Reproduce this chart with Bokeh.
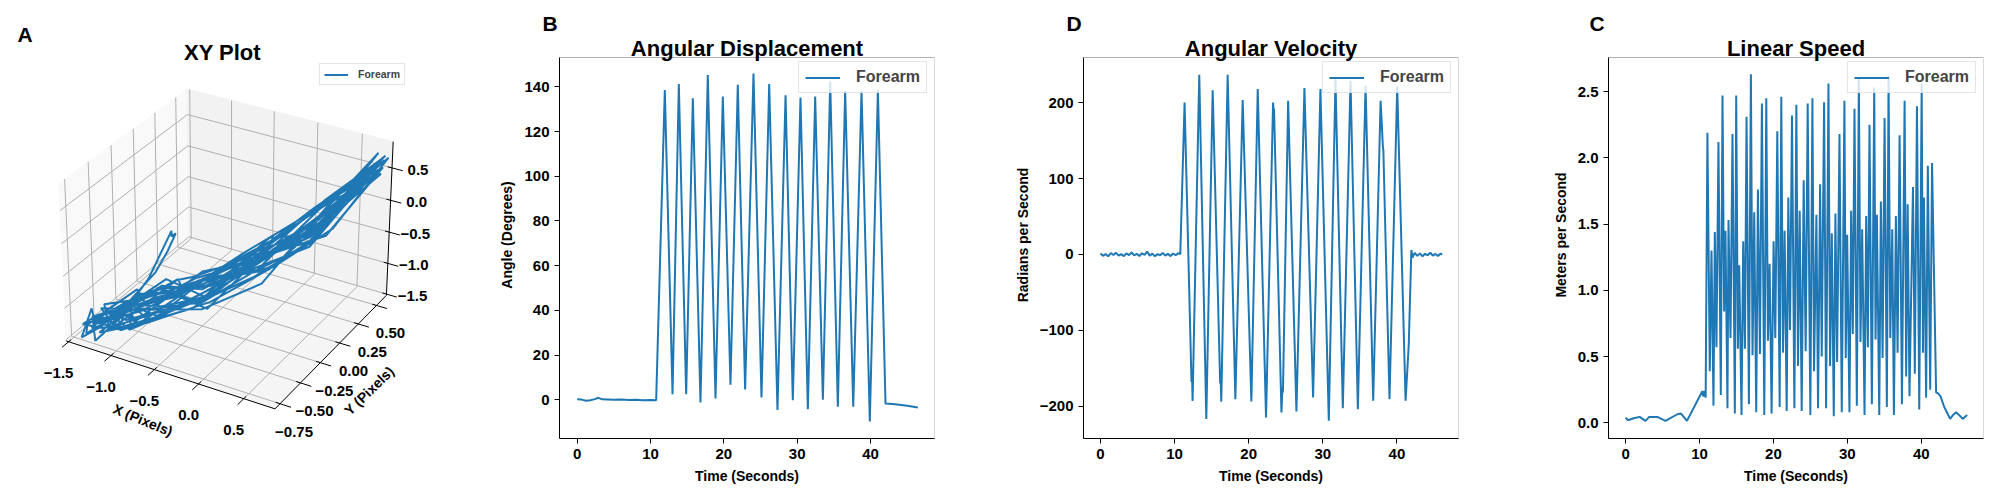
import numpy as np
from bokeh.plotting import figure
from bokeh.layouts import row
from bokeh.models import FixedTicker, BoxAnnotation
from bokeh.core.properties import value
from bokeh.embed import file_html
from bokeh.resources import INLINE

FONT = "Liberation Sans"
BLUE = "#1f77b4"

# ---------------------------------------------------------------- data

# angular displacement (degrees) over time (seconds)
disp_t = [0.0, 0.6, 1.2, 1.8, 2.4, 2.9, 3.4, 4.2, 5.0, 6.0, 7.0, 8.0, 9.0, 10.0, 10.77,
          11.95, 13.0, 13.86, 14.86, 15.77, 16.81, 17.81, 18.86, 19.86, 20.9,
          21.9, 22.9, 24.04, 25.13, 26.18, 27.31, 28.41, 29.4, 30.45, 31.45,
          32.45, 33.5, 34.5, 35.54, 36.54, 37.64, 38.77, 39.9, 41.0,
          42.04, 43.0, 43.95, 45.0, 46.45]
disp_v = [0.3, 0.1, -0.4, -0.2, 0.3, 0.9, 0.2, 0.1, 0.0, 0.1, -0.1, 0.0, -0.2, -0.1, -0.2,
          138.5, 2.5, 141.2, 2.5, 134.9, -1.2, 145.3, 0.6, 135.6, 6.7,
          140.9, 4.6, 145.9, 1.0, 141.2, -4.5, 136.2, -0.2, 135.2, -4.2,
          135.7, 0.0, 142.4, -3.1, 138.2, -3.1, 138.2, -9.7, 138.5,
          -1.7, -1.9, -2.2, -2.7, -3.4]

# angular velocity (radians per second)
vel_t = [0.0, 0.35, 0.7, 1.05, 1.4, 1.75, 2.1, 2.45, 2.8, 3.15,
         3.5, 3.85, 4.2, 4.55, 4.9, 5.25, 5.6, 5.95, 6.3, 6.65,
         7.0, 7.35, 7.7, 8.05, 8.4, 8.75, 9.1, 9.45, 9.8, 10.15,
         10.5, 10.77,
         11.35, 12.28, 12.36, 12.43, 13.33, 14.28, 15.14, 16.15, 16.22, 16.30,
         17.16, 18.20, 19.19, 20.36, 21.22, 22.34, 23.29, 23.36, 23.42, 24.42,
         24.55, 24.62, 25.32, 26.44, 27.52, 28.69, 29.68, 30.81, 31.71, 32.70,
         33.74, 34.73, 35.77, 36.80, 37.80, 38.12, 38.17, 39.00, 40.04, 41.17,
         41.60, 41.95,
         42.1, 42.4, 42.75, 43.1, 43.45, 43.8, 44.15, 44.5, 44.85, 45.2,
         45.55, 45.9, 46.1]
vel_v = [1.2, -1.8, 0.6, -2.5, 1.9, -0.7, 2.2, -1.5, 0.4, -2.1,
         1.4, -0.9, 2.6, -1.2, 0.8, -1.9, 1.6, -0.4, 3.8, -1.6,
         1.1, -2.3, 0.5, -1.0, 2.0, -1.4, 0.9, -2.2, 1.3, -0.8,
         1.7, 0.5,
         200.4, -168, -160, -193, 236.9, -217, 216.6, -170, -165, -194,
         236.9, -190.7, 203.5, -193.7, 218, -214.9, 200.4, 188, 192, -208.3,
         -175, -182, 202.6, -207, 219.3, -188.5, 218, -219.3, 231, -202.6,
         229, -204, 222.4, -192.9, 202.6, 140, 138, -190.7, 221, -192.9,
         -118, 6,
         -4, 2.2, -1.8, 1.5, -2.4, 0.9, -1.1, 2.3, -1.6, 0.7,
         -2.0, 1.2, -0.5]

# linear speed (meters per second)
speed_t = [0.0, 0.3, 1.1, 1.9, 2.7, 3.2, 4.3, 5.4, 7.0, 7.5, 8.3, 10.4, 10.5, 10.7, 10.83,
           11.07, 11.39, 11.62, 11.89, 12.07, 12.29, 12.56, 12.88, 13.11, 13.33,
           13.51, 13.78, 13.92, 14.19, 14.46, 14.78, 14.96, 15.19, 15.37, 15.68,
           15.91, 16.14, 16.36, 16.68, 16.95, 17.17, 17.40, 17.67, 17.90, 18.17,
           18.44, 18.76, 19.03, 19.25, 19.48, 19.75, 20.02, 20.25, 20.52, 20.84,
           21.06, 21.29, 21.51, 21.79, 22.01, 22.24, 22.51, 22.83, 23.10, 23.32,
           23.55, 23.82, 24.09, 24.36, 24.63, 24.99, 25.27, 25.49, 25.81, 26.03,
           26.31, 26.53, 26.85, 27.12, 27.44, 27.66, 27.89, 28.16, 28.38, 28.61,
           28.93, 29.24, 29.60, 29.78, 29.97, 30.28, 30.51, 30.73, 30.96, 31.28,
           31.55, 31.77, 32.00, 32.32, 32.54, 32.77, 32.99, 33.31, 33.63, 33.81,
           33.99, 34.31, 34.53, 34.76, 35.03, 35.34, 35.57, 35.80, 36.07, 36.29,
           36.56, 36.79, 37.06, 37.38, 37.74, 37.95, 38.15, 38.40, 38.87, 39.12,
           39.41, 39.72, 40.05, 40.22, 40.35, 40.65, 40.88, 41.20, 41.45,
           42.0, 42.3, 42.6, 43.1, 43.9, 44.3, 44.7, 45.1, 45.6, 46.2]
speed_v = [0.04, 0.02, 0.035, 0.045, 0.015, 0.045, 0.045, 0.015, 0.065, 0.07, 0.015, 0.24, 0.20, 0.24, 0.19,
           2.19, 0.39, 1.30, 0.13, 1.44, 0.57, 2.12, 0.21, 2.47, 0.84,
           1.45, 0.11, 1.53, 0.64, 2.18, 0.07, 2.47, 0.56, 1.19, 0.06,
           1.37, 0.56, 2.31, 0.14, 2.63, 0.51, 1.59, 0.08, 1.76, 0.52,
           2.41, 0.06, 2.45, 0.62, 1.20, 0.07, 1.37, 0.64, 2.20, 0.12,
           2.46, 0.53, 1.45, 0.09, 1.70, 0.70, 2.32, 0.11, 2.40, 0.43,
           1.60, 0.09, 1.83, 0.54, 2.41, 0.06, 2.45, 0.39, 1.57, 0.11,
           1.80, 0.50, 2.42, 0.11, 2.56, 0.43, 1.43, 0.05, 1.58, 0.46,
           2.18, 0.08, 2.43, 0.49, 1.42, 0.08, 1.60, 0.67, 2.37, 0.13,
           2.60, 0.61, 1.46, 0.06, 1.56, 0.57, 2.25, 0.14, 2.53, 0.63,
           1.57, 0.06, 1.67, 0.49, 2.30, 0.12, 2.62, 0.64, 1.46, 0.06,
           1.56, 0.53, 2.17, 0.14, 2.43, 0.35, 1.65, 0.20, 1.78, 0.37,
           2.39, 0.10, 2.56, 0.53, 1.70, 0.19, 1.94, 0.25, 1.96,
           0.23, 0.22, 0.20, 0.12, 0.03, 0.06, 0.08, 0.06, 0.03, 0.06]

# forearm position in 3D: rest scribble, 15 swings of 11 points, rest
arm_x = [-1.45, -1.38, -1.50, -1.42, -1.30, -1.22, -1.35, -1.46, -1.28, -1.18, -1.32, -1.40,
         -1.24, -1.12, -1.30, -1.44, -1.36, -1.20, -1.27, -1.48, -1.34, -1.16, -1.26, -1.38,
         -1.20, -1.28, -1.22, -1.35, -1.30, -1.42, -1.36, -1.48, -1.40, -1.32, -1.25,
         -1.15, -1.10, -1.05, -1.12, -1.08, -1.18, -1.26, -1.34, -1.44, -1.38, -1.30,
         -1.30, -0.98, -0.52, -0.08, 0.36, 0.74, 0.30, -0.15, -0.60, -0.90, -1.05,
         -1.38, -1.05, -0.57, -0.12, 0.33, 0.78, 0.38, -0.02, -0.50, -0.78, -0.95,
         -1.22, -0.92, -0.58, -0.14, 0.31, 0.70, 0.34, -0.12, -0.56, -0.88, -1.15,
         -1.42, -1.10, -0.50, -0.05, 0.40, 0.80, 0.28, -0.18, -0.62, -0.85, -1.00,
         -1.28, -0.96, -0.62, -0.10, 0.35, 0.76, 0.36, -0.04, -0.48, -0.82, -1.20,
         -1.35, -1.02, -0.54, -0.16, 0.29, 0.72, 0.32, -0.10, -0.58, -0.86, -1.08,
         -1.45, -1.08, -0.60, -0.07, 0.38, 0.82, 0.40, -0.06, -0.53, -0.95, -1.25,
         -1.20, -0.94, -0.49, -0.11, 0.34, 0.75, 0.27, -0.20, -0.64, -0.84, -0.98,
         -1.32, -1.00, -0.56, -0.13, 0.37, 0.79, 0.35, -0.08, -0.51, -0.90, -1.18,
         -1.40, -1.06, -0.53, -0.09, 0.32, 0.73, 0.31, -0.14, -0.59, -0.88, -1.10,
         -1.26, -0.97, -0.61, -0.15, 0.36, 0.77, 0.37, -0.10, -0.55, -0.92, -1.22,
         -1.36, -1.04, -0.51, -0.06, 0.39, 0.81, 0.29, -0.16, -0.61, -0.80, -1.02,
         -1.24, -0.93, -0.59, -0.12, 0.30, 0.71, 0.33, -0.08, -0.49, -0.86, -1.12,
         -1.43, -1.09, -0.55, -0.08, 0.35, 0.78, 0.39, -0.12, -0.57, -0.96, -1.30,
         -1.29, -0.99, -0.57, -0.14, 0.33, 0.74, 0.30, -0.12, -0.54, -0.90, -1.15,
         -1.25, -1.30, -1.22, -1.28]
arm_y = [-0.70, -0.62, -0.55, -0.74, -0.65, -0.48, -0.36, -0.58, -0.72, -0.40, -0.28, -0.50,
         -0.60, -0.30, -0.22, -0.45, -0.68, -0.52, -0.35, -0.62, -0.76, -0.42, -0.25, -0.55,
         -0.30, -0.36, -0.28, -0.45, -0.52, -0.60, -0.48, -0.66, -0.58, -0.40, -0.34,
         -0.15, -0.05, 0.00, 0.02, -0.02, -0.20, -0.32, -0.44, -0.56, -0.50, -0.42,
         -0.38, -0.22, -0.05, 0.15, 0.38, 0.60, 0.18, -0.02, -0.28, -0.42, -0.55,
         -0.48, -0.20, -0.22, -0.02, 0.22, 0.52, 0.42, 0.20, -0.02, -0.08, -0.10,
         -0.30, -0.45, -0.10, 0.10, 0.28, 0.62, 0.30, 0.08, -0.20, -0.38, -0.62,
         -0.52, -0.30, -0.25, 0.00, 0.36, 0.54, 0.15, -0.10, -0.30, -0.30, -0.35,
         -0.34, -0.58, -0.12, 0.12, 0.40, 0.58, 0.34, 0.16, -0.08, -0.25, -0.45,
         -0.44, -0.15, -0.18, -0.05, 0.20, 0.52, 0.24, 0.02, -0.24, -0.22, -0.25,
         -0.56, -0.40, -0.08, 0.18, 0.34, 0.61, 0.40, 0.18, -0.12, -0.45, -0.70,
         -0.28, -0.24, -0.20, 0.06, 0.30, 0.56, 0.12, -0.08, -0.32, -0.15, -0.05,
         -0.40, -0.50, -0.14, 0.02, 0.42, 0.59, 0.32, 0.12, -0.06, -0.36, -0.52,
         -0.50, -0.28, -0.06, 0.14, 0.24, 0.49, 0.20, -0.04, -0.26, -0.33, -0.38,
         -0.32, -0.62, -0.16, 0.08, 0.36, 0.63, 0.38, 0.14, -0.14, -0.30, -0.40,
         -0.46, -0.18, -0.24, 0.16, 0.32, 0.55, 0.16, -0.02, -0.22, -0.20, -0.20,
         -0.36, -0.35, -0.04, -0.04, 0.26, 0.60, 0.28, 0.10, -0.10, -0.40, -0.58,
         -0.54, -0.42, -0.20, 0.12, 0.38, 0.53, 0.36, 0.10, -0.18, -0.36, -0.48,
         -0.42, -0.26, -0.12, 0.04, 0.30, 0.57, 0.22, 0.02, -0.16, -0.24, -0.30,
         -0.35, -0.42, -0.38, -0.40]
arm_z = [-1.35, -1.46, -1.30, -1.50, -1.40, -1.28, -1.45, -1.38, -1.52, -1.33, -1.42, -1.25,
         -1.48, -1.36, -1.30, -1.44, -1.40, -1.50, -1.32, -1.46, -1.38, -1.27, -1.43, -1.35,
         -1.40, -1.44, -1.38, -1.46, -1.42, -1.36, -1.48, -1.40, -1.34, -1.45, -1.30,
         -1.05, -0.80, -0.55, -0.65, -0.50, -1.10, -1.36, -1.42, -1.38, -1.47, -1.40,
         -1.42, -1.30, -0.90, -0.45, 0.05, 0.62, -0.40, -0.80, -1.25, -1.38, -1.45,
         -1.40, -1.20, -1.20, -0.85, -0.35, 0.57, 0.10, -0.42, -0.85, -1.05, -1.15,
         -1.50, -1.40, -0.95, -0.55, -0.30, 0.70, -0.05, -0.70, -1.20, -1.30, -1.35,
         -1.30, -1.45, -1.25, -0.95, 0.10, 0.50, -0.30, -0.55, -0.90, -1.00, -1.05,
         -1.38, -1.25, -0.85, -0.70, -0.10, 0.66, 0.15, -0.50, -1.15, -1.35, -1.48,
         -1.46, -1.10, -1.15, -0.50, -0.40, 0.58, -0.20, -0.62, -0.80, -1.12, -1.25,
         -1.52, -1.35, -1.00, -0.90, 0.00, 0.68, -0.35, -0.88, -1.30, -1.42, -1.40,
         -1.36, -1.15, -1.30, -0.60, -0.25, 0.60, 0.05, -0.45, -0.95, -1.15, -1.20,
         -1.44, -1.40, -0.90, -0.80, 0.12, 0.65, -0.15, -0.68, -1.10, -1.40, -1.50,
         -1.49, -1.22, -1.10, -0.40, -0.30, 0.52, -0.45, -0.72, -0.85, -1.05, -1.10,
         -1.39, -1.30, -1.25, -0.75, -0.05, 0.67, 0.10, -0.52, -1.20, -1.32, -1.30,
         -1.47, -1.18, -0.95, -0.65, -0.38, 0.59, -0.25, -0.60, -0.90, -1.22, -1.38,
         -1.37, -1.42, -1.20, -0.48, 0.08, 0.55, -0.10, -0.62, -1.05, -1.36, -1.45,
         -1.51, -1.28, -0.88, -0.88, -0.20, 0.63, 0.00, -0.66, -1.25, -1.30, -1.32,
         -1.41, -1.24, -1.05, -0.58, -0.12, 0.61, -0.32, -0.64, -0.95, -1.25, -1.40,
         -1.40, -1.44, -1.41, -1.43]

time_ticks = [0, 10, 20, 30, 40]
disp_ticks = [0, 20, 40, 60, 80, 100, 120, 140]
disp_tick_labels = ["0", "20", "40", "60", "80", "100", "120", "140"]
vel_ticks = [-200, -100, 0, 100, 200]
vel_tick_labels = ["\u2212200", "\u2212100", "0", "100", "200"]
speed_ticks = [0.0, 0.5, 1.0, 1.5, 2.0, 2.5]
speed_tick_labels = ["0.0", "0.5", "1.0", "1.5", "2.0", "2.5"]

xyz_xticks = [-1.5, -1.0, -0.5, 0.0, 0.5]
xyz_yticks = [-0.75, -0.50, -0.25, 0.00, 0.25, 0.50]
xyz_zticks = [-1.5, -1.0, -0.5, 0.0, 0.5]
xyz_xlim = (-1.53, 0.84)
xyz_ylim = (-0.81, 0.64)
xyz_zlim = (-1.52, 0.90)

# ---------------------------------------------------------------- layout constants

BORDER_TOP = 31      # room for the panel letters
BOX_GAP = 26         # px between top of frame and top of the axes box
BOX_H = 381          # height of the axes box in px
FRAME_H = BOX_GAP + BOX_H

# 3d view: pixels per projected unit and where the projected origin sits
VIEW_SCALE = 2095.0
VIEW_X0 = 228.6
VIEW_Y0 = 241.1 - BORDER_TOP

ELEV, AZIM, DIST = 30.0, -60.0, 10.0
BOX = np.array([4.0, 4.0, 3.0]) * 1.8294640721620434 / np.linalg.norm([4.0, 4.0, 3.0])


# perspective projection of the 3d box, same maths as a default 3d axes
def project(xs, ys, zs):
    cols = []
    for vals, (lo, hi), size in zip((xs, ys, zs), (xyz_xlim, xyz_ylim, xyz_zlim), BOX):
        cols.append(((np.asarray(vals, float) - lo) / (hi - lo) - 0.5) * size)
    pts = np.stack(cols, axis=-1)
    el, az = np.deg2rad(ELEV), np.deg2rad(AZIM)
    w = np.array([np.cos(el) * np.cos(az), np.cos(el) * np.sin(az), np.sin(el)])
    u = np.cross([0.0, 0.0, 1.0], w)
    u /= np.linalg.norm(u)
    v = np.cross(w, u)
    depth = DIST - pts @ w
    return list((pts @ u) / depth), list((pts @ v) / depth)


def fmt(t, digits):
    return f"{t:.{digits}f}".replace("-", "\u2212")


def add_text(p, xs, ys, zs, labels, dx, dy, size="15px", angle=0.0):
    px, py = project(xs, ys, zs)
    p.text(px, py, text=labels, x_offset=dx, y_offset=dy, angle=angle,
           text_align="center", text_baseline="middle", text_color="black",
           text_font=value(FONT), text_font_style="bold", text_font_size=size)


def bold_text(p, x, y, text, size, align="center", dx=0, dy=0):
    p.text([x], [y], text=[text], x_offset=dx, y_offset=dy, text_align=align,
           text_baseline="alphabetic", text_color="black",
           text_font=value(FONT), text_font_style="bold", text_font_size=size)


def set_letter(p, letter, offset, standoff):
    p.title.text = letter
    p.title.align = "left"
    p.title.offset = offset
    p.title.standoff = standoff
    p.title.text_font = FONT
    p.title.text_font_style = "bold"
    p.title.text_font_size = "21px"
    p.title.text_color = "black"


def style_legend(lg, location, size, glyph_w, glyph_h, standoff, padding):
    lg.location = location
    lg.label_text_font = FONT
    lg.label_text_font_style = "bold"
    lg.label_text_font_size = size
    lg.glyph_width = glyph_w
    lg.glyph_height = glyph_h
    lg.label_height = glyph_h
    lg.label_standoff = standoff
    lg.padding = padding
    lg.spacing = 0
    lg.border_line_color = "#cccccc"
    lg.background_fill_alpha = 0.8


# ---------------------------------------------------------------- panels

def xyz_panel():
    width = 484
    p = figure(frame_width=width, frame_height=FRAME_H, min_border_left=0, min_border_right=0,
               min_border_top=BORDER_TOP, min_border_bottom=54,
               x_range=(-VIEW_X0 / VIEW_SCALE, (width - VIEW_X0) / VIEW_SCALE),
               y_range=((VIEW_Y0 - FRAME_H) / VIEW_SCALE, VIEW_Y0 / VIEW_SCALE),
               x_axis_type=None, y_axis_type=None,
               toolbar_location=None, output_backend="svg")
    p.outline_line_color = None
    x0, x1 = xyz_xlim
    y0, y1 = xyz_ylim
    z0, z1 = xyz_zlim

    # panes
    panes = [([x0, x0, x0, x0], [y0, y1, y1, y0], [z0, z0, z1, z1], "#f9f9f9"),
             ([x0, x1, x1, x0], [y1, y1, y1, y1], [z0, z0, z1, z1], "#f2f2f2"),
             ([x0, x1, x1, x0], [y0, y0, y1, y1], [z0, z0, z0, z0], "#f5f5f5")]
    for xs, ys, zs, c in panes:
        px, py = project(xs, ys, zs)
        p.patch(px, py, fill_color=c, line_color=c)

    def seg(a, b, into_x, into_y):
        px, py = project([a[0], b[0]], [a[1], b[1]], [a[2], b[2]])
        into_x.append(px)
        into_y.append(py)

    # grid lines on the panes
    gx, gy = [], []
    for t in xyz_xticks:
        seg((t, y0, z0), (t, y1, z0), gx, gy)
        seg((t, y1, z0), (t, y1, z1), gx, gy)
    for t in xyz_yticks:
        seg((x0, t, z0), (x1, t, z0), gx, gy)
        seg((x0, t, z0), (x0, t, z1), gx, gy)
    for t in xyz_zticks:
        seg((x0, y0, t), (x0, y1, t), gx, gy)
        seg((x0, y1, t), (x1, y1, t), gx, gy)
    p.multi_line(gx, gy, line_color="#b0b0b0", line_width=1)

    # axis lines and ticks
    ax_x, ax_y = [], []
    seg((x0, y0, z0), (x1, y0, z0), ax_x, ax_y)
    seg((x1, y0, z0), (x1, y1, z0), ax_x, ax_y)
    seg((x1, y1, z0), (x1, y1, z1), ax_x, ax_y)
    dX, dY = x1 - x0, y1 - y0
    for t in xyz_xticks:
        seg((t, y0 + 0.02 * dY, z0), (t, y0 - 0.05 * dY, z0), ax_x, ax_y)
    for t in xyz_yticks:
        seg((x1 - 0.02 * dX, t, z0), (x1 + 0.05 * dX, t, z0), ax_x, ax_y)
    for t in xyz_zticks:
        seg((x1 - 0.02 * dX, y1, t), (x1 + 0.05 * dX, y1, t), ax_x, ax_y)
    p.multi_line(ax_x, ax_y, line_color="black", line_width=1)

    # trajectory
    px, py = project(arm_x, arm_y, arm_z)
    p.line(px, py, line_color=BLUE, line_width=2, legend_label="Forearm")

    # tick labels
    n = len(xyz_xticks)
    add_text(p, xyz_xticks, [y0] * n, [z0] * n, [fmt(t, 1) for t in xyz_xticks], -10, 31)
    n = len(xyz_yticks)
    add_text(p, [x1] * n, xyz_yticks, [z0] * n, [fmt(t, 2) for t in xyz_yticks], 14, 28)
    n = len(xyz_zticks)
    add_text(p, [x1] * n, [y1] * n, xyz_zticks, [fmt(t, 1) for t in xyz_zticks], 26, 2)

    # axis labels
    add_text(p, [(x0 + x1) / 2], [y0], [z0], ["X (Pixels)"], -25, 46, "14px", -0.39)
    add_text(p, [x1], [(y0 + y1) / 2], [z0], ["Y (Pixels)"], 36, 41, "14px", 0.77)

    # title over the 3d axes (centred at 222 px, baseline 51.7 px from the top)
    bold_text(p, (222 - VIEW_X0) / VIEW_SCALE, (VIEW_Y0 - (51.7 - BORDER_TOP)) / VIEW_SCALE,
              "XY Plot", "22px")

    style_legend(p.legend[0], (319, 353), "10.5px", 24, 11, 10, 4)
    set_letter(p, "A", 17, -29)
    return p


def time_panel(t, v, x_range, box_y, yticks, ylabels, ylabel, right, title, letter, letter_offset):
    y0, y1 = box_y
    y_top = y1 + (y1 - y0) * BOX_GAP / BOX_H
    p = figure(frame_width=375, frame_height=FRAME_H, x_range=x_range, y_range=(y0, y_top),
               min_border_left=75, min_border_right=right, min_border_top=BORDER_TOP,
               min_border_bottom=54, toolbar_location=None, output_backend="svg")
    p.line(t, v, line_color=BLUE, line_width=2, legend_label="Forearm")
    p.xgrid.visible = False
    p.ygrid.visible = False
    p.outline_line_color = None
    p.add_layout(BoxAnnotation(left=x_range[0], right=x_range[1], bottom=y0, top=y1,
                               fill_alpha=0, line_color="black", line_width=1))

    p.xaxis.ticker = FixedTicker(ticks=time_ticks)
    p.yaxis.ticker = FixedTicker(ticks=yticks)
    p.yaxis.bounds = (y0, y1)
    p.yaxis.major_label_overrides = dict(zip(yticks, ylabels))
    p.xaxis.axis_label = "Time (Seconds)"
    p.yaxis.axis_label = ylabel
    for ax in (p.xaxis[0], p.yaxis[0]):
        ax.axis_line_color = "black"
        ax.major_tick_line_color = "black"
        ax.major_tick_out = 5
        ax.major_tick_in = 0
        ax.minor_tick_line_color = None
        ax.major_label_standoff = 5
        ax.major_label_text_font = FONT
        ax.major_label_text_font_style = "bold"
        ax.major_label_text_font_size = "15px"
        ax.major_label_text_color = "black"
        ax.axis_label_text_font = FONT
        ax.axis_label_text_font_style = "bold"
        ax.axis_label_text_font_size = "14px"
        ax.axis_label_text_color = "black"
        ax.axis_label_standoff = 6

    style_legend(p.legend[0], (239, 345), "16px", 35, 15, 16, 6)
    bold_text(p, (x_range[0] + x_range[1]) / 2, y1, title, "22px", dy=-9.3)
    set_letter(p, letter, letter_offset, -7)
    return p


p_a = xyz_panel()
p_b = time_panel(disp_t, disp_v, (-2.41, 48.72), (-17.3, 153.1), disp_ticks, disp_tick_labels,
                 "Angle (Degrees)", 74, "Angular Displacement", "B", -17)
p_d = time_panel(vel_t, vel_v, (-2.29, 48.31), (-242.6, 259.7), vel_ticks, vel_tick_labels,
                 "Radians per Second", 75, "Angular Velocity", "D", -17)
p_c = time_panel(speed_t, speed_v, (-2.31, 48.41), (-0.118, 2.757), speed_ticks, speed_tick_labels,
                 "Meters per Second", 9, "Linear Speed", "C", -19)

layout = row(p_a, p_b, p_d, p_c)
open("out.html", "w").write(file_html(layout, INLINE))
